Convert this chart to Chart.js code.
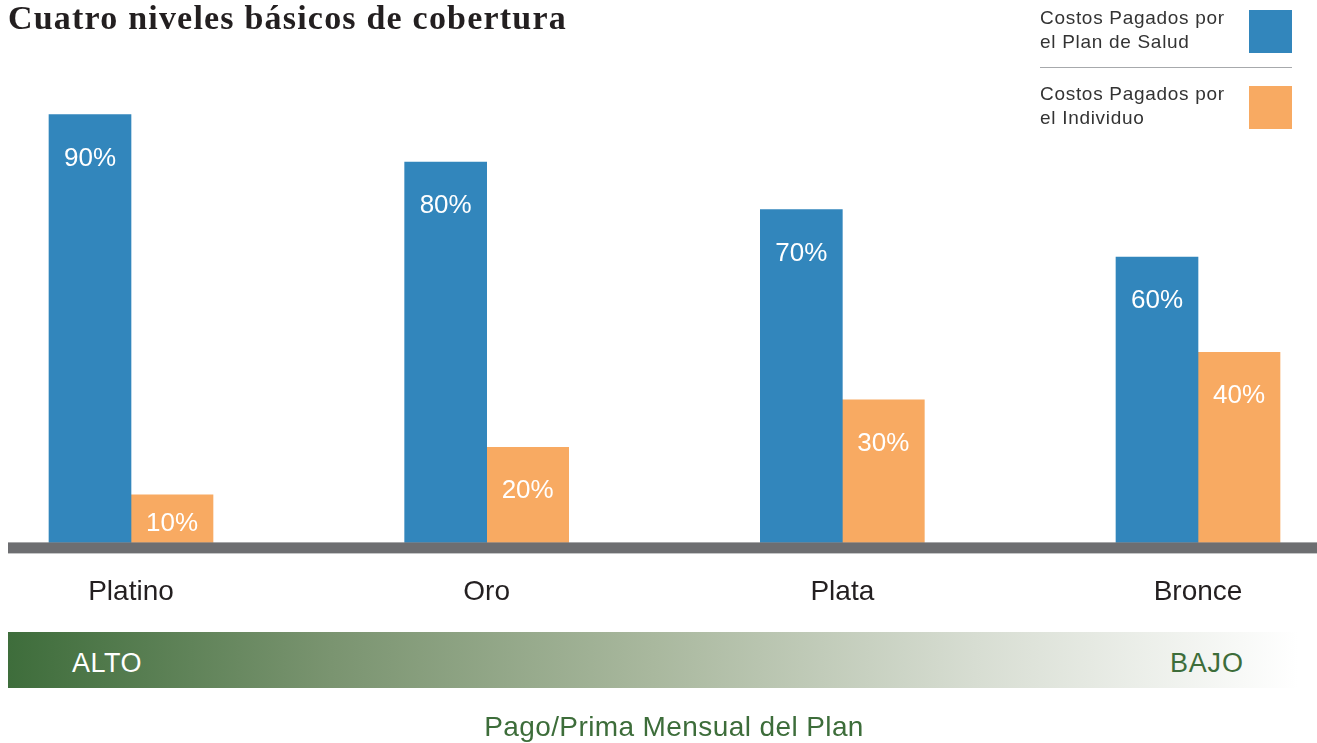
<!DOCTYPE html>
<html>
<head>
<meta charset="utf-8">
<script src="https://cdn.jsdelivr.net/npm/chart.js@4/dist/chart.umd.min.js"></script>
<style>
  body { margin: 0; background: #fff; font-family: "Liberation Sans", Arial, sans-serif; }
  #wrap { position: relative; width: 1317px; height: 743px; overflow: hidden; }
  #wrap canvas { position: absolute; left: 0; top: 0; }
  .title { position: absolute; left: 8px; top: -1px; font: bold 34px "Liberation Serif", "DejaVu Serif", serif; letter-spacing: 1.2px; color: #231f20; }
  .lg { position: absolute; left: 1040px; font-size: 19px; letter-spacing: 0.7px; line-height: 24px; color: #333; }
  .box { position: absolute; left: 1249px; width: 43px; height: 43px; }
  .sep { position: absolute; left: 1040px; top: 67px; width: 252px; height: 1px; background: #a7a9ac; }
  .strip { position: absolute; left: 8px; top: 632px; width: 1290px; height: 56px;
    background: linear-gradient(90deg, #3e6d3b 0%, #7a9470 25%, #a9b89e 50%, #d7ddd2 75%, #ffffff 100%); }
  .alto { position: absolute; left: 72px; top: 648px; font-size: 27px; letter-spacing: 0.5px; color: #fff; }
  .bajo { position: absolute; left: 1170px; top: 648px; font-size: 27px; letter-spacing: 0.8px; color: #3d6d3a; }
  .cap { position: absolute; left: 0; width: 1348px; text-align: center; top: 711px; font-size: 28px; letter-spacing: 0.4px; color: #3d6d3a; }
</style>
</head>
<body>
<div id="wrap">
  <canvas id="chart" width="1317" height="743"></canvas>
  <div class="title">Cuatro niveles básicos de cobertura</div>
  <div class="lg" style="top:6px">Costos Pagados por<br>el Plan de Salud</div>
  <div class="box" style="top:10px;background:#3286bc"></div>
  <div class="sep"></div>
  <div class="lg" style="top:82px">Costos Pagados por<br>el Individuo</div>
  <div class="box" style="top:86px;background:#f8aa62"></div>
  <div class="strip"></div>
  <div class="alto">ALTO</div>
  <div class="bajo">BAJO</div>
  <div class="cap">Pago/Prima Mensual del Plan</div>
</div>
<script>
var planes = ["Platino", "Oro", "Plata", "Bronce"];
var pagadoPlan = [90, 80, 70, 60];
var pagadoIndividuo = [10, 20, 30, 40];

// gray baseline under the bars
const baseLine = {
  id: "baseLine",
  afterDatasetsDraw(chart) {
    const ctx = chart.ctx;
    const y0 = chart.scales.y.getPixelForValue(0);
    ctx.save();
    ctx.fillStyle = "#6d6e71";
    ctx.fillRect(8, y0, chart.width - 8, 11);
    ctx.restore();
  },
};

// white % labels inside the bars
const barLabels = {
  id: "barLabels",
  afterDatasetsDraw(chart) {
    const ctx = chart.ctx;
    ctx.save();
    ctx.fillStyle = "#fff";
    ctx.font = '26px "Liberation Sans", Arial, sans-serif';
    ctx.textAlign = "center";
    ctx.textBaseline = "middle";
    chart.data.datasets.forEach((ds, i) => {
      chart.getDatasetMeta(i).data.forEach((bar, j) => {
        const h = bar.base - bar.y;
        ctx.fillText(ds.data[j] + "%", bar.x, bar.y + Math.min(44, h * 0.6));
      });
    });
    ctx.restore();
  },
};

const data_Cobertura = {
  labels: planes,
  datasets: [
    {
      label: "Costos Pagados por el Plan de Salud",
      data: pagadoPlan,
      backgroundColor: "#3286bc",
      barThickness: 82,
      clip: false,
    },
    {
      label: "Costos Pagados por el Individuo",
      data: pagadoIndividuo,
      backgroundColor: "#f8aa62",
      barThickness: 82,
      clip: false,
    },
  ],
};

const config_Cobertura = {
  type: "bar",
  data: data_Cobertura,
  options: {
    responsive: false,
    animation: false,
    layout: {
      padding: { left: 131, right: 119, top: 67, bottom: 101 },
    },
    scales: {
      x: {
        offset: false,
        grid: { display: false, drawTicks: false },
        border: { display: false },
        ticks: {
          color: "#231f20",
          padding: 33,
          maxRotation: 0,
          autoSkip: false,
          font: { family: '"Liberation Sans", Arial, sans-serif', size: 28 },
        },
      },
      y: {
        display: false,
        min: 0,
        max: 100,
      },
    },
    plugins: {
      legend: { display: false },
      tooltip: { enabled: false },
    },
  },
  plugins: [baseLine, barLabels],
};

const Cobertura = new Chart(document.getElementById("chart"), config_Cobertura);
</script>
</body>
</html>
